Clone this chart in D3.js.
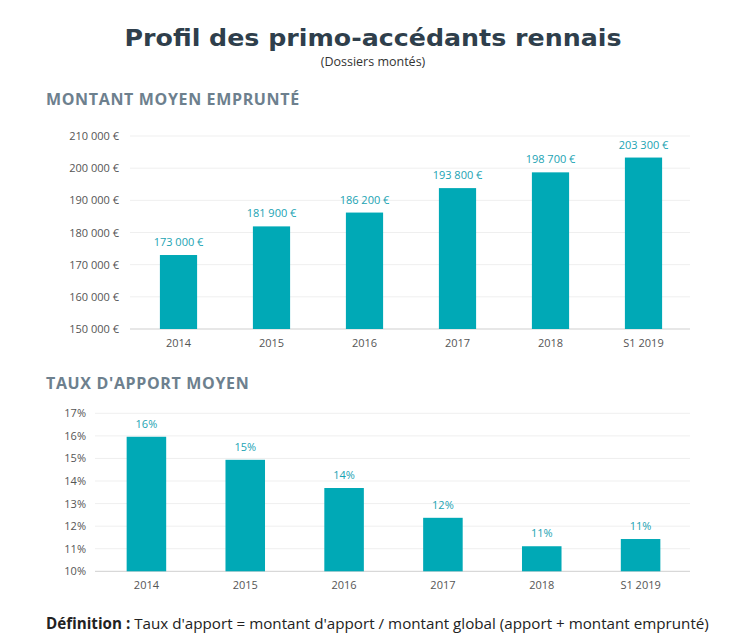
<!DOCTYPE html>
<html><head><meta charset="utf-8">
<script src="https://cdn.jsdelivr.net/npm/d3@7"></script>
<style>body{margin:0;background:#fff;} svg{display:block;}</style>
</head><body>
<script>
const categories = ["2014","2015","2016","2017","2018","S1 2019"];
const montant = [173000,181900,186200,193800,198700,203300];
const montantLabels = ["173 000 €","181 900 €","186 200 €","193 800 €","198 700 €","203 300 €"];
const montantTicks = [150000,160000,170000,180000,190000,200000,210000];
const taux = [15.96,14.94,13.69,12.37,11.11,11.43];
const tauxLabels = ["16%","15%","14%","12%","11%","11%"];
const tauxTicks = [10,11,12,13,14,15,16,17];

const W=751,H=644;
const teal="#00a9b6", tealText="#1aa3b3", axisText="#555", grid="#efefef";
const svg=d3.select("body").append("svg").attr("width",W).attr("height",H);

svg.append("text").attr("x",373).attr("y",46).attr("text-anchor","middle")
  .attr("font-family","DejaVu Sans").attr("font-weight","bold").attr("font-size",22.5)
  .attr("textLength",497).attr("lengthAdjust","spacingAndGlyphs")
  .attr("fill","#2f3f4c").text("Profil des primo-accédants rennais");
svg.append("text").attr("x",373).attr("y",66).attr("text-anchor","middle")
  .attr("font-family","Open Sans").attr("font-size",12.5).attr("fill","#333").text("(Dossiers montés)");

function section(y,t){
  svg.append("text").attr("x",46).attr("y",y).attr("font-family","Open Sans").attr("font-weight","bold")
    .attr("font-size",16).attr("fill","#6d808e").attr("letter-spacing",0.65).text(t);
}
section(104.5,"MONTANT MOYEN EMPRUNTÉ");
section(388.5,"TAUX D'APPORT MOYEN");

function chart(opts){
  const x=d3.scaleBand().domain(categories).range([opts.x0,opts.x1]).paddingInner(0.6).paddingOuter(0.3);
  const y=d3.scaleLinear().domain(opts.domain).range([opts.yb,opts.yt]);
  const g=svg.append("g");
  g.selectAll(".grid").data(opts.ticks).enter().append("line")
    .attr("x1",opts.x0-2).attr("x2",opts.x1).attr("y1",d=>y(d)).attr("y2",d=>y(d))
    .attr("stroke",d=>d===opts.domain[0]?"#cfcfcf":grid).attr("stroke-width",1);
  const ya=d3.axisLeft(y).tickValues(opts.ticks).tickFormat(opts.fmt).tickSize(0).tickPadding(0);
  const yg=g.append("g").attr("transform",`translate(${opts.labX},0)`).call(ya);
  yg.select(".domain").remove();
  yg.selectAll("text").attr("font-family","Open Sans").attr("font-size",11).attr("fill",axisText);
  g.selectAll(".bar").data(opts.values).enter().append("rect")
    .attr("x",(d,i)=>x(categories[i])).attr("width",x.bandwidth())
    .attr("y",d=>y(d)).attr("height",d=>y(opts.domain[0])-y(d)).attr("fill",teal);
  g.selectAll(".vl").data(opts.values).enter().append("text")
    .attr("x",(d,i)=>x(categories[i])+x.bandwidth()/2).attr("y",d=>y(d)-9)
    .attr("text-anchor","middle").attr("font-family","Open Sans").attr("font-size",11)
    .attr("fill",tealText).text((d,i)=>opts.labels[i]);
  const xa=d3.axisBottom(x).tickSize(0).tickPadding(0);
  const xg=g.append("g").attr("transform",`translate(0,${opts.yb+8})`).call(xa);
  xg.select(".domain").remove();
  xg.selectAll("text").attr("font-family","Open Sans").attr("font-size",11).attr("fill",axisText).attr("dy","0.9em");
}

chart({x0:132,x1:690,yt:136,yb:329,domain:[150000,210000],ticks:montantTicks,
  fmt:d=>d3.format(",")(d).replace(/,/g," ")+" €",labX:119,values:montant,labels:montantLabels});
chart({x0:97,x1:690,yt:413.3,yb:571.3,domain:[10,17],ticks:tauxTicks,
  fmt:d=>d+"%",labX:86,values:taux,labels:tauxLabels});

const f=svg.append("text").attr("x",46).attr("y",628.5).attr("font-family","Open Sans").attr("font-size",15.2).attr("fill","#222");
f.append("tspan").attr("font-weight","bold").text("Définition : ");
f.append("tspan").text("Taux d'apport = montant d'apport / montant global (apport + montant emprunté)");
</script>
</body></html>
